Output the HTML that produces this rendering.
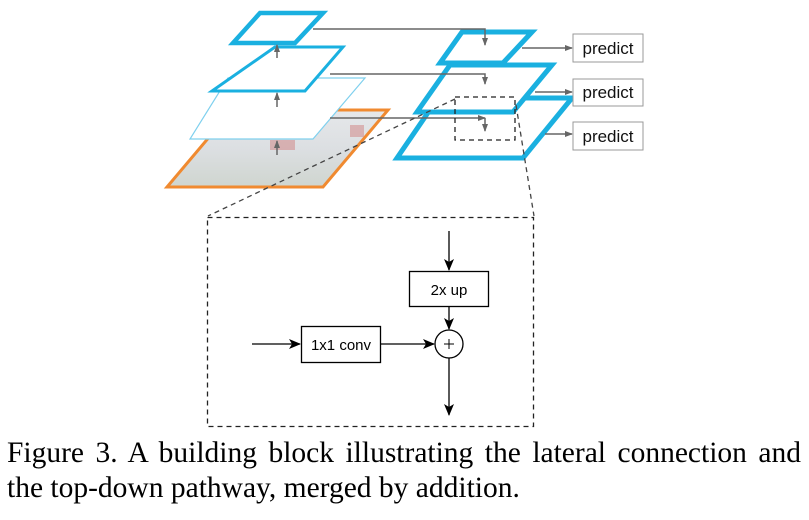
<!DOCTYPE html>
<html><head><style>
body{margin:0;background:#fff;width:809px;height:520px;overflow:hidden;position:relative}
.cap{position:absolute;left:7px;font-family:"Liberation Serif",serif;font-size:29.5px;color:#000;white-space:nowrap}
</style></head><body>
<svg width="809" height="440" style="position:absolute;left:0;top:0">
<defs>
<marker id="g" markerWidth="8" markerHeight="8" refX="7" refY="4" orient="auto" markerUnits="userSpaceOnUse"><path d="M0,1 L8,4 L0,7z" fill="#666"/></marker>
<marker id="k" markerWidth="12" markerHeight="12" refX="11" refY="6" orient="auto" markerUnits="userSpaceOnUse"><path d="M0,1 L12,6 L0,11 L3,6z" fill="#000"/></marker>
<linearGradient id="img" x1="0" y1="0" x2="0" y2="1"><stop offset="0" stop-color="#e6e8ea"/><stop offset="0.5" stop-color="#dcdfe2"/><stop offset="1" stop-color="#cfd5cf"/></linearGradient>
</defs>
<polygon points="232,110 388,110 323,187 167,187" fill="url(#img)" stroke="#f08a30" stroke-width="3"/>
<rect x="270" y="140" width="25" height="10" fill="#d08080" opacity="0.5"/>
<rect x="350" y="125" width="14" height="12" fill="#d08080" opacity="0.5"/>
<polygon points="228,78 365,78 313,139 190,139" fill="#fff" stroke="#7fd0ee" stroke-width="1.2"/>
<polygon points="275,47 343,47 305,91 212,91" fill="#fff" stroke="#1ab0e0" stroke-width="3"/>
<polygon points="260,13 323,13 295,43 233,43" fill="#fff" stroke="#1ab0e0" stroke-width="4.5"/>
<g stroke="#666" stroke-width="1.5" fill="none">
<line x1="277" y1="58" x2="277" y2="45" marker-end="url(#g)"/>
<line x1="277" y1="107" x2="277" y2="93" marker-end="url(#g)"/>
<line x1="277" y1="155" x2="277" y2="141" marker-end="url(#g)"/>
</g>
<polygon points="438,98 572,98 523,158 397,158" fill="#fff" stroke="#1ab0e0" stroke-width="5"/>
<polygon points="450,65 552,65 513,112 417,112" fill="#fff" stroke="#1ab0e0" stroke-width="5"/>
<polygon points="462,32 532,32 503,63 440,63" fill="#fff" stroke="#1ab0e0" stroke-width="5"/>
<g stroke="#666" stroke-width="1.5" fill="none">
<polyline points="313,29 485,29 485,45" marker-end="url(#g)"/>
<polyline points="330,74 485,74 485,84" marker-end="url(#g)"/>
<line x1="330" y1="118" x2="485" y2="118" marker-end="url(#g)"/>
<line x1="485" y1="118" x2="485" y2="131" marker-end="url(#g)"/>
<line x1="522" y1="48" x2="572" y2="48" marker-end="url(#g)"/>
<line x1="535" y1="92" x2="572" y2="92" marker-end="url(#g)"/>
<line x1="545" y1="134" x2="572" y2="134" marker-end="url(#g)"/>
</g>
<g fill="#fff" stroke="#999" stroke-width="1">
<rect x="573" y="34" width="70" height="28"/>
<rect x="573" y="79" width="70" height="27"/>
<rect x="573" y="122" width="70" height="28"/>
</g>
<g font-family="Liberation Sans,sans-serif" font-size="17" fill="#111" text-anchor="middle">
<text x="608" y="54">predict</text><text x="608" y="98">predict</text><text x="608" y="142">predict</text>
</g>
<g stroke="#444" stroke-width="1.3" fill="none" stroke-dasharray="5,4">
<rect x="455" y="97" width="60" height="43" stroke="#222"/>
<line x1="455" y1="99" x2="208" y2="216"/>
<line x1="516" y1="105" x2="534" y2="216"/>
<rect x="207.5" y="217.5" width="326" height="209" stroke="#222"/>
</g>
<g stroke="#000" stroke-width="1.3" fill="none">
<line x1="449" y1="231" x2="449" y2="270" marker-end="url(#k)"/>
<rect x="409.5" y="271.5" width="79" height="35" fill="#fff"/>
<line x1="449" y1="307" x2="449" y2="329" marker-end="url(#k)"/>
<circle cx="449" cy="344" r="14"/>
<line x1="449" y1="358" x2="449" y2="415" marker-end="url(#k)"/>
<line x1="252" y1="344" x2="300" y2="344" marker-end="url(#k)"/>
<rect x="301.5" y="326.5" width="79" height="36" fill="#fff"/>
<line x1="381" y1="344" x2="434" y2="344" marker-end="url(#k)"/>
<line x1="444" y1="344" x2="454" y2="344" stroke-width="1"/>
<line x1="449" y1="339" x2="449" y2="349" stroke-width="1"/>
</g>
<g font-family="Liberation Sans,sans-serif" font-size="15" fill="#000" text-anchor="middle">
<text x="449" y="295">2x up</text>
<text x="341" y="350">1x1 conv</text>
</g>
</svg>
<div class="cap" style="top:437px;width:794px;text-align:justify;text-align-last:justify">Figure 3. A building block illustrating the lateral connection and</div>
<div class="cap" style="top:472px">the top-down pathway, merged by addition.</div>
</body></html>
